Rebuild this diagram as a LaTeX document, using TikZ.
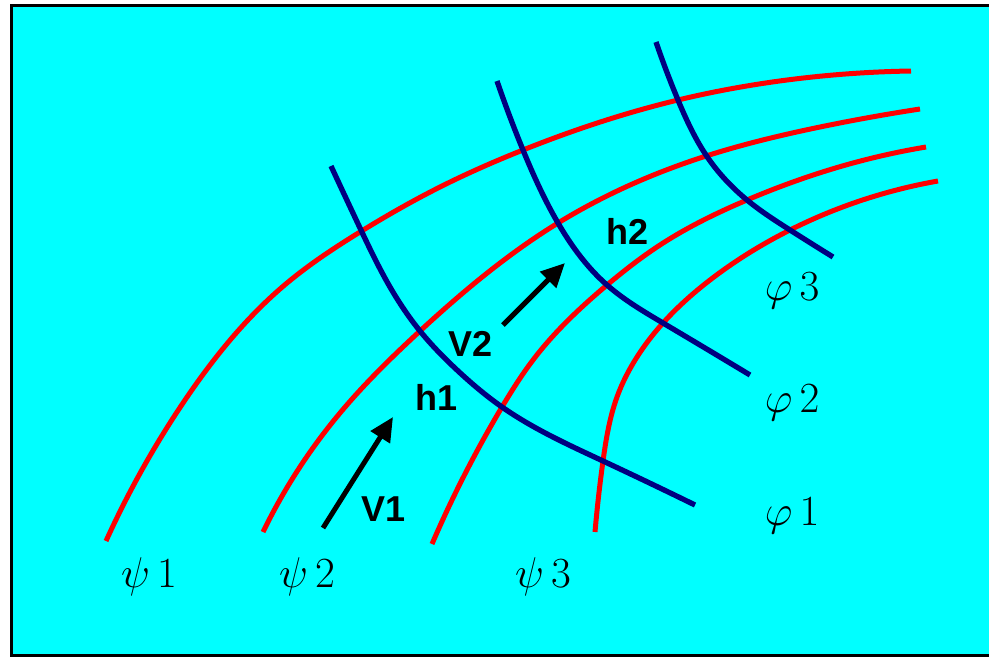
\RequirePackage{fix-cm}
\documentclass[tikz,border=0pt]{standalone}
\usepackage{fontspec}
\newfontfamily\labelfont{Liberation Sans}
\usetikzlibrary{arrows.meta,hobby}
\definecolor{bgcyan}{RGB}{0,255,255}
\definecolor{navyline}{RGB}{0,0,128}
\tikzset{
  psiline/.style={draw=red, line width=5pt, line cap=butt, use Hobby shortcut},
  philine/.style={draw=navyline, line width=5.3pt, line cap=butt, use Hobby shortcut},
  vecarrow/.style={draw=black, line width=5pt, -{Triangle[length=24pt,width=22pt]}},
  boldlabel/.style={font=\labelfont\bfseries\fontsize{36}{40}\selectfont, inner sep=0pt},
  mathlabel/.style={font=\fontsize{43}{50}\selectfont, inner sep=0pt, anchor=base}
}
\begin{document}
\begin{tikzpicture}[x=1pt,y=-1pt]
\useasboundingbox (0,0) rectangle (989,657);
\fill[bgcyan] (10,4) rectangle (992,657);
\draw[black, line width=3.2pt] (992,5.6) -- (11.6,5.6) -- (11.6,655.4) -- (992,655.4);

% psi curves (red)
\draw[psiline] (106,541) .. (183,403) .. (287,283) .. (360,232) .. (440,187) .. (523,150) .. (678,100) .. (787,80) .. (911,71);
\draw[psiline] (263,532) .. (340,413) .. (420,331) .. (558,223) .. (700,158) .. (820,127) .. (920,109);
\draw[psiline] (432,544) .. (502,407) .. (533,360) .. (607,285) .. (660,245) .. (747,200) .. (853,163) .. (926,147);
\draw[psiline] (595,532) .. (603,461) .. (617,397) .. (637,357) .. (663,323) .. (710,280) .. (790,230) .. (938,181);

% phi curves (navy)
\draw[philine] (331,166) .. (360,228) .. (390,287) .. (420,331) .. (457,370) .. (502,407) .. (603,461) .. (695,505);
\draw[philine] (497,81) .. (523,150) .. (558,223) .. (607,285) .. (663,323) .. (750,375);
\draw[philine] (656,42) .. (678,100) .. (708,158) .. (747,200) .. (790,230) .. (833,257);

% vectors
\coordinate (v1tail) at (323,528);
\coordinate (v1tip) at (393,417);
\coordinate (v2tail) at (503,325);
\coordinate (v2tip) at (565,263);
\draw[vecarrow] (v1tail) -- (v1tip);
\draw[vecarrow] (v2tail) -- (v2tip);

% bold labels
\node[boldlabel] (V1) at (384,509) {V1};
\node[boldlabel] (h1) at (437,397) {h1};
\node[boldlabel] (V2) at (471,344) {V2};
\node[boldlabel] (h2) at (628,231) {h2};

% math labels
\node[mathlabel] (psi1) at (149,587) {$\psi\,1$};
\node[mathlabel] (psi2) at (307,587) {$\psi\,2$};
\node[mathlabel] (psi3) at (543,587) {$\psi\,3$};
\node[mathlabel] (phi3) at (792,300) {$\varphi\,3$};
\node[mathlabel] (phi2) at (792,412) {$\varphi\,2$};
\node[mathlabel] (phi1) at (792,525) {$\varphi\,1$};
\end{tikzpicture}
\end{document}
